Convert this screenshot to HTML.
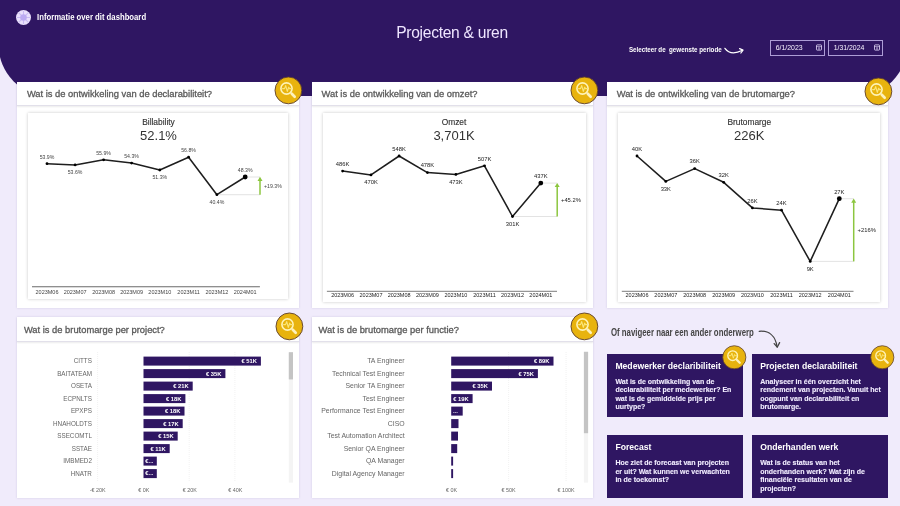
<!DOCTYPE html>
<html lang="nl"><head><meta charset="utf-8"><title>Projecten &amp; uren</title>
<style>
*{box-sizing:border-box;margin:0;padding:0}
html,body{width:900px;height:506px;overflow:hidden;background:#f0ebfb;font-family:"Liberation Sans", sans-serif}
.abs,.ico{position:absolute;overflow:visible}
.card{position:absolute;background:#fff;box-shadow:0 0 2px rgba(80,60,120,.18)}
.ct{position:absolute;left:0;top:0;right:0;font-size:9.35px;color:#5a5a5a;line-height:1;white-space:nowrap;border-bottom:1.2px solid #e2e0ea;box-shadow:0 1px 1.5px rgba(0,0,0,.08);-webkit-text-stroke:.3px #5a5a5a}
.inner{position:absolute;background:#fff;box-shadow:0 0 3px rgba(0,0,0,.22)}
text{font-family:"Liberation Sans", sans-serif}
.kt{font-size:8.4px;fill:#333;text-anchor:middle;stroke:#333;stroke-width:.14px}
.kv{font-size:13px;fill:#333;text-anchor:middle}
.dl{text-anchor:middle}
.xl{font-size:5.5px;text-anchor:middle}
.bl{fill:#666;text-anchor:end}
.bv{font-size:5.8px;fill:#fff;font-weight:bold;text-anchor:end}
.tk{font-size:5.4px;fill:#666;text-anchor:middle}
.tile{position:absolute;background:#2f1662;color:#fff}
.tt{position:absolute;left:8.6px;font-size:8.65px;font-weight:bold;white-space:nowrap;line-height:1;color:#fff}
.tb{position:absolute;left:8.6px;font-size:7px;font-weight:bold;line-height:8.55px;white-space:nowrap;color:#f1ecff;-webkit-text-stroke:.12px #f1ecff}
.hw{font-weight:bold}
</style></head>
<body>
<svg class="abs" style="left:0;top:0" width="900" height="100" viewBox="0 0 900 100">
<rect x="-1.3" y="-60" width="908.4" height="156" rx="50.5" fill="#2f1662"/>
</svg>
<svg class="abs" style="left:15.4px;top:8.8px" width="17" height="17" viewBox="-8.5 -8.5 17 17">
<circle r="7.5" fill="#e9e0fc"/>
<g stroke="#c9bbf3" stroke-width="1.1"><path d="M0,-6.6V6.6M-6.6,0H6.6M-4.7,-4.7L4.7,4.7M-4.7,4.7L4.7,-4.7"/></g>
<circle r="3.3" fill="#bcabf2"/>
</svg>
<svg class="abs" style="left:30px;top:8px" width="130" height="18" viewBox="0 0 130 18"><text x="7.1" y="12.4" class="hw" font-size="9.4" fill="#fff" textLength="109" lengthAdjust="spacingAndGlyphs">Informatie over dit dashboard</text></svg>
<div class="abs" style="left:300px;width:304px;top:24.3px;text-align:center;font-size:15.6px;letter-spacing:-.28px;color:#efe6ff;line-height:18px;white-space:nowrap">Projecten &amp; uren</div>
<svg class="abs" style="left:620px;top:38px" width="140" height="22" viewBox="0 0 140 22"><text x="8.9" y="13.8" class="hw" font-size="8" fill="#fff" textLength="92.8" lengthAdjust="spacingAndGlyphs" xml:space="preserve">Selecteer de  gewenste periode</text>
<path d="M104.9,10.3 C108,14.5 114,16.5 122.5,12.3" fill="none" stroke="#fff" stroke-width="1.25" stroke-linecap="round"/>
<path d="M119.6,10.6 L123,12.1 L120.9,15" fill="none" stroke="#fff" stroke-width="1.25" stroke-linecap="round" stroke-linejoin="round"/></svg>
<div class="abs" style="left:770.2px;top:39.6px;width:54.7px;height:16px;border:1.1px solid #ad9dd6;color:#f7f3ff;font-size:6.9px;line-height:14.6px;padding-left:4.6px;white-space:nowrap">6/1/2023<svg class="abs" style="left:44.6px;top:3.4px" width="6" height="7" viewBox="0 0 6 7"><rect x=".5" y=".9" width="5" height="5.2" rx=".6" fill="none" stroke="#e6dcfb" stroke-width=".8"/><path d="M.5,2.6H5.5M2,3.9h2M2,5h2" stroke="#e6dcfb" stroke-width=".6"/></svg></div>
<div class="abs" style="left:828.1px;top:39.6px;width:54.7px;height:16px;border:1.1px solid #ad9dd6;color:#f7f3ff;font-size:6.9px;line-height:14.6px;padding-left:4.6px;white-space:nowrap">1/31/2024<svg class="abs" style="left:44.6px;top:3.4px" width="6" height="7" viewBox="0 0 6 7"><rect x=".5" y=".9" width="5" height="5.2" rx=".6" fill="none" stroke="#e6dcfb" stroke-width=".8"/><path d="M.5,2.6H5.5M2,3.9h2M2,5h2" stroke="#e6dcfb" stroke-width=".6"/></svg></div>
<div class="card" style="left:17.3px;top:81.8px;width:281.3px;height:226.3px">
<div class="ct" style="height:24.6px;padding:8.4px 0 0 9.6px">Wat is de ontwikkeling van de declarabiliteit?</div>
<div class="inner" style="left:10.7px;top:31.2px;width:260.5px;height:185.8px"></div>
</div>
<div class="card" style="left:311.9px;top:81.8px;width:281.2px;height:226.3px">
<div class="ct" style="height:24.6px;padding:8.4px 0 0 9.6px">Wat is de ontwikkeling van de omzet?</div>
<div class="inner" style="left:11.0px;top:31.2px;width:263.6px;height:189.2px"></div>
</div>
<div class="card" style="left:607.1px;top:81.8px;width:280.6px;height:226.3px">
<div class="ct" style="height:24.6px;padding:8.4px 0 0 9.6px">Wat is de ontwikkeling van de brutomarge?</div>
<div class="inner" style="left:10.6px;top:31.2px;width:262.5px;height:189.2px"></div>
</div>
<div class="card" style="left:17.3px;top:316.8px;width:281.3px;height:181.4px">
<div class="ct" style="height:25.4px;padding:8.8px 0 0 6.6px">Wat is de brutomarge per project?</div>
</div>
<div class="card" style="left:311.9px;top:316.8px;width:281.2px;height:181.4px">
<div class="ct" style="height:25.4px;padding:8.8px 0 0 6.6px">Wat is de brutomarge per functie?</div>
</div>
<svg class="abs" style="left:28px;top:113px" width="260" height="186" viewBox="0 0 260 186">
<text x="130.5" y="11.8" class="kt">Billability</text>
<text x="130.5" y="26.8" class="kv">52.1%</text>
<path d="M188.9,81.7 H232.0 M217.2,64.0 H232.0" stroke="#d0d0d0" stroke-width="0.6" fill="none"/>
<path d="M232.0,81.7 V66.0" stroke="#8cc63f" stroke-width="1.5" fill="none"/>
<path d="M229.5,68.0 L232.0,63.8 L234.5,68.0 Z" fill="#8cc63f"/>
<polyline points="19.0,50.7 47.1,51.9 75.6,46.8 103.6,50.1 131.8,57.0 160.6,44.2 188.9,81.7 217.2,64.0" fill="none" stroke="#1e1e1e" stroke-width="1.55" stroke-linejoin="round"/>
<circle cx="19.0" cy="50.7" r="1.4" fill="#000"/>
<circle cx="47.1" cy="51.9" r="1.4" fill="#000"/>
<circle cx="75.6" cy="46.8" r="1.4" fill="#000"/>
<circle cx="103.6" cy="50.1" r="1.4" fill="#000"/>
<circle cx="131.8" cy="57.0" r="1.4" fill="#000"/>
<circle cx="160.6" cy="44.2" r="1.4" fill="#000"/>
<circle cx="188.9" cy="81.7" r="1.4" fill="#000"/>
<circle cx="217.2" cy="64.0" r="2.4" fill="#000"/>
<text x="19.0" y="45.5" class="dl" font-size="5.2" fill="#444">53.9%</text>
<text x="47.1" y="61.1" class="dl" font-size="5.2" fill="#444">53.6%</text>
<text x="75.6" y="41.6" class="dl" font-size="5.2" fill="#444">55.9%</text>
<text x="103.6" y="44.9" class="dl" font-size="5.2" fill="#444">54.3%</text>
<text x="131.8" y="66.2" class="dl" font-size="5.2" fill="#444">51.3%</text>
<text x="160.6" y="39.0" class="dl" font-size="5.2" fill="#444">56.8%</text>
<text x="188.9" y="90.9" class="dl" font-size="5.2" fill="#444">40.4%</text>
<text x="217.2" y="58.8" class="dl" font-size="5.2" fill="#444">48.3%</text>
<text x="236.0" y="74.8" class="dl" font-size="5.2" style="text-anchor:start" fill="#444">+19.3%</text>
<path d="M4.0,173.8 H231.9" stroke="#6a6a6a" stroke-width="1.1"/>
<text x="19.0" y="180.7" class="xl" fill="#444">2023M06</text>
<text x="47.1" y="180.7" class="xl" fill="#444">2023M07</text>
<text x="75.6" y="180.7" class="xl" fill="#444">2023M08</text>
<text x="103.6" y="180.7" class="xl" fill="#444">2023M09</text>
<text x="131.8" y="180.7" class="xl" fill="#444">2023M10</text>
<text x="160.6" y="180.7" class="xl" fill="#444">2023M11</text>
<text x="188.9" y="180.7" class="xl" fill="#444">2023M12</text>
<text x="217.2" y="180.7" class="xl" fill="#444">2024M01</text>
</svg>
<svg class="abs" style="left:323px;top:113px" width="263" height="189" viewBox="0 0 263 189">
<text x="131.0" y="11.8" class="kt">Omzet</text>
<text x="131.0" y="26.8" class="kv">3,701K</text>
<path d="M189.5,103.5 H234.2 M217.8,70.1 H234.2" stroke="#d0d0d0" stroke-width="0.6" fill="none"/>
<path d="M234.2,103.5 V72.1" stroke="#8cc63f" stroke-width="1.5" fill="none"/>
<path d="M231.7,74.1 L234.2,69.9 L236.7,74.1 Z" fill="#8cc63f"/>
<polyline points="19.6,58.1 48.0,61.9 76.1,43.0 104.4,59.6 132.9,61.4 161.5,52.8 189.5,103.5 217.8,70.1" fill="none" stroke="#1e1e1e" stroke-width="1.55" stroke-linejoin="round"/>
<circle cx="19.6" cy="58.1" r="1.4" fill="#000"/>
<circle cx="48.0" cy="61.9" r="1.4" fill="#000"/>
<circle cx="76.1" cy="43.0" r="1.4" fill="#000"/>
<circle cx="104.4" cy="59.6" r="1.4" fill="#000"/>
<circle cx="132.9" cy="61.4" r="1.4" fill="#000"/>
<circle cx="161.5" cy="52.8" r="1.4" fill="#000"/>
<circle cx="189.5" cy="103.5" r="1.4" fill="#000"/>
<circle cx="217.8" cy="70.1" r="2.4" fill="#000"/>
<text x="19.6" y="52.9" class="dl" font-size="5.8" fill="#222">486K</text>
<text x="48.0" y="71.1" class="dl" font-size="5.8" fill="#222">470K</text>
<text x="76.1" y="37.8" class="dl" font-size="5.8" fill="#222">548K</text>
<text x="104.4" y="54.4" class="dl" font-size="5.8" fill="#222">478K</text>
<text x="132.9" y="70.6" class="dl" font-size="5.8" fill="#222">473K</text>
<text x="161.5" y="47.6" class="dl" font-size="5.8" fill="#222">507K</text>
<text x="189.5" y="112.7" class="dl" font-size="5.8" fill="#222">301K</text>
<text x="217.8" y="64.9" class="dl" font-size="5.8" fill="#222">437K</text>
<text x="238.0" y="88.7" class="dl" font-size="5.8" style="text-anchor:start" fill="#222">+45.2%</text>
<path d="M3.9,178.3 H234.0" stroke="#222" stroke-width="0.6"/>
<text x="19.6" y="184.2" class="xl" fill="#222">2023M06</text>
<text x="48.0" y="184.2" class="xl" fill="#222">2023M07</text>
<text x="76.1" y="184.2" class="xl" fill="#222">2023M08</text>
<text x="104.4" y="184.2" class="xl" fill="#222">2023M09</text>
<text x="132.9" y="184.2" class="xl" fill="#222">2023M10</text>
<text x="161.5" y="184.2" class="xl" fill="#222">2023M11</text>
<text x="189.5" y="184.2" class="xl" fill="#222">2023M12</text>
<text x="217.8" y="184.2" class="xl" fill="#222">2024M01</text>
</svg>
<svg class="abs" style="left:617.7px;top:113px" width="262" height="189" viewBox="0 0 262 189">
<text x="131.3" y="11.8" class="kt">Brutomarge</text>
<text x="131.3" y="26.8" class="kv">226K</text>
<path d="M192.2,148.4 H235.7 M221.3,85.7 H235.7" stroke="#d0d0d0" stroke-width="0.6" fill="none"/>
<path d="M235.7,148.4 V87.7" stroke="#8cc63f" stroke-width="1.5" fill="none"/>
<path d="M233.2,89.7 L235.7,85.5 L238.2,89.7 Z" fill="#8cc63f"/>
<polyline points="19.0,43.0 47.8,68.4 76.7,55.6 105.7,69.3 134.4,94.9 163.5,97.2 192.2,148.4 221.3,85.7" fill="none" stroke="#1e1e1e" stroke-width="1.55" stroke-linejoin="round"/>
<circle cx="19.0" cy="43.0" r="1.4" fill="#000"/>
<circle cx="47.8" cy="68.4" r="1.4" fill="#000"/>
<circle cx="76.7" cy="55.6" r="1.4" fill="#000"/>
<circle cx="105.7" cy="69.3" r="1.4" fill="#000"/>
<circle cx="134.4" cy="94.9" r="1.4" fill="#000"/>
<circle cx="163.5" cy="97.2" r="1.4" fill="#000"/>
<circle cx="192.2" cy="148.4" r="1.4" fill="#000"/>
<circle cx="221.3" cy="85.7" r="2.4" fill="#000"/>
<text x="19.0" y="37.8" class="dl" font-size="5.8" fill="#222">40K</text>
<text x="47.8" y="77.6" class="dl" font-size="5.8" fill="#222">33K</text>
<text x="76.7" y="50.4" class="dl" font-size="5.8" fill="#222">36K</text>
<text x="105.7" y="64.1" class="dl" font-size="5.8" fill="#222">32K</text>
<text x="134.4" y="89.7" class="dl" font-size="5.8" fill="#222">26K</text>
<text x="163.5" y="92.0" class="dl" font-size="5.8" fill="#222">24K</text>
<text x="192.2" y="157.6" class="dl" font-size="5.8" fill="#222">9K</text>
<text x="221.3" y="80.5" class="dl" font-size="5.8" fill="#222">27K</text>
<text x="239.6" y="118.9" class="dl" font-size="5.8" style="text-anchor:start" fill="#222">+216%</text>
<path d="M3.8,178.3 H235.5" stroke="#222" stroke-width="0.6"/>
<text x="19.0" y="184.2" class="xl" fill="#222">2023M06</text>
<text x="47.8" y="184.2" class="xl" fill="#222">2023M07</text>
<text x="76.7" y="184.2" class="xl" fill="#222">2023M08</text>
<text x="105.7" y="184.2" class="xl" fill="#222">2023M09</text>
<text x="134.4" y="184.2" class="xl" fill="#222">2023M10</text>
<text x="163.5" y="184.2" class="xl" fill="#222">2023M11</text>
<text x="192.2" y="184.2" class="xl" fill="#222">2023M12</text>
<text x="221.3" y="184.2" class="xl" fill="#222">2024M01</text>
</svg>
<svg class="abs" style="left:17.3px;top:341px" width="281" height="157" viewBox="0 0 281 157">
<path d="M80.6,11.0 V141.0" stroke="#e3e3e3" stroke-width="0.6" stroke-dasharray="0.8 1.2"/>
<path d="M172.2,11.0 V141.0" stroke="#e3e3e3" stroke-width="0.6" stroke-dasharray="0.8 1.2"/>
<path d="M217.9,11.0 V141.0" stroke="#e3e3e3" stroke-width="0.6" stroke-dasharray="0.8 1.2"/>
<text x="74.9" y="22.3" class="bl" font-size="6.3">CITTS</text>
<rect x="126.5" y="15.6" width="117.4" height="9" fill="#2f1662"/>
<text x="239.9" y="22.0" class="bv">€ 51K</text>
<text x="74.9" y="34.8" class="bl" font-size="6.3">BAITATEAM</text>
<rect x="126.5" y="28.1" width="81.9" height="9" fill="#2f1662"/>
<text x="204.4" y="34.5" class="bv">€ 35K</text>
<text x="74.9" y="47.3" class="bl" font-size="6.3">OSETA</text>
<rect x="126.5" y="40.6" width="49.2" height="9" fill="#2f1662"/>
<text x="171.7" y="47.0" class="bv">€ 21K</text>
<text x="74.9" y="59.8" class="bl" font-size="6.3">ECPNLTS</text>
<rect x="126.5" y="53.1" width="41.9" height="9" fill="#2f1662"/>
<text x="164.4" y="59.5" class="bv">€ 18K</text>
<text x="74.9" y="72.3" class="bl" font-size="6.3">EPXPS</text>
<rect x="126.5" y="65.6" width="41.0" height="9" fill="#2f1662"/>
<text x="163.5" y="72.0" class="bv">€ 18K</text>
<text x="74.9" y="84.8" class="bl" font-size="6.3">HNAHOLDTS</text>
<rect x="126.5" y="78.1" width="39.2" height="9" fill="#2f1662"/>
<text x="161.7" y="84.5" class="bv">€ 17K</text>
<text x="74.9" y="97.3" class="bl" font-size="6.3">SSECOMTL</text>
<rect x="126.5" y="90.6" width="34.2" height="9" fill="#2f1662"/>
<text x="156.7" y="97.0" class="bv">€ 15K</text>
<text x="74.9" y="109.8" class="bl" font-size="6.3">SSTAE</text>
<rect x="126.5" y="103.1" width="26.2" height="9" fill="#2f1662"/>
<text x="148.7" y="109.5" class="bv">€ 11K</text>
<text x="74.9" y="122.3" class="bl" font-size="6.3">IMBMED2</text>
<rect x="126.5" y="115.6" width="13.3" height="9" fill="#2f1662"/>
<text x="128.3" y="121.9" class="bv" style="text-anchor:start">€...</text>
<text x="74.9" y="134.8" class="bl" font-size="6.3">HNATR</text>
<rect x="126.5" y="128.1" width="13.3" height="9" fill="#2f1662"/>
<text x="128.3" y="134.4" class="bv" style="text-anchor:start">€...</text>
<text x="80.6" y="150.8" class="tk">-€ 20K</text>
<text x="126.9" y="150.8" class="tk">€ 0K</text>
<text x="172.7" y="150.8" class="tk">€ 20K</text>
<text x="218.3" y="150.8" class="tk">€ 40K</text>
<rect x="271.8" y="11.2" width="4.2" height="130.4" fill="#f4f4f4"/>
<rect x="271.8" y="11.2" width="4.2" height="27.2" fill="#c4c4c4"/>
</svg>
<svg class="abs" style="left:311.9px;top:341px" width="281" height="157" viewBox="0 0 281 157">
<path d="M196.6,11.0 V141.0" stroke="#e3e3e3" stroke-width="0.6" stroke-dasharray="0.8 1.2"/>
<path d="M254.1,11.0 V141.0" stroke="#e3e3e3" stroke-width="0.6" stroke-dasharray="0.8 1.2"/>
<text x="92.6" y="22.3" class="bl" font-size="6.9">TA Engineer</text>
<rect x="139.2" y="15.6" width="102.3" height="9" fill="#2f1662"/>
<text x="237.5" y="22.0" class="bv">€ 89K</text>
<text x="92.6" y="34.8" class="bl" font-size="6.9">Technical Test Engineer</text>
<rect x="139.2" y="28.1" width="86.7" height="9" fill="#2f1662"/>
<text x="221.9" y="34.5" class="bv">€ 75K</text>
<text x="92.6" y="47.3" class="bl" font-size="6.9">Senior TA Engineer</text>
<rect x="139.2" y="40.6" width="40.8" height="9" fill="#2f1662"/>
<text x="176.0" y="47.0" class="bv">€ 35K</text>
<text x="92.6" y="59.8" class="bl" font-size="6.9">Test Engineer</text>
<rect x="139.2" y="53.1" width="21.4" height="9" fill="#2f1662"/>
<text x="156.6" y="59.5" class="bv">€ 19K</text>
<text x="92.6" y="72.3" class="bl" font-size="6.9">Performance Test Engineer</text>
<rect x="139.2" y="65.6" width="11.5" height="9" fill="#2f1662"/>
<text x="141.0" y="71.9" class="bv" style="text-anchor:start">...</text>
<text x="92.6" y="84.8" class="bl" font-size="6.9">CISO</text>
<rect x="139.2" y="78.1" width="7.3" height="9" fill="#2f1662"/>
<text x="92.6" y="97.3" class="bl" font-size="6.9">Test Automation Architect</text>
<rect x="139.2" y="90.6" width="6.8" height="9" fill="#2f1662"/>
<text x="92.6" y="109.8" class="bl" font-size="6.9">Senior QA Engineer</text>
<rect x="139.2" y="103.1" width="6.0" height="9" fill="#2f1662"/>
<text x="92.6" y="122.3" class="bl" font-size="6.9">QA Manager</text>
<rect x="139.2" y="115.6" width="1.9" height="9" fill="#2f1662"/>
<text x="92.6" y="134.8" class="bl" font-size="6.9">Digital Agency Manager</text>
<rect x="139.2" y="128.1" width="1.9" height="9" fill="#2f1662"/>
<text x="139.6" y="150.8" class="tk">€ 0K</text>
<text x="196.6" y="150.8" class="tk">€ 50K</text>
<text x="254.1" y="150.8" class="tk">€ 100K</text>
<rect x="271.9" y="10.8" width="4.2" height="130.8" fill="#f4f4f4"/>
<rect x="271.9" y="10.8" width="4.2" height="81.4" fill="#c4c4c4"/>
</svg>
<svg class="ico" style="left:273.4px;top:75.4px" width="30.8" height="30.8" viewBox="-15.4 -15.4 30.8 30.8">
<circle r="13.4" fill="#e8b30e" stroke="#5b3d2e" stroke-width="0.9"/>
<circle cx="-1.9" cy="-1.9" r="5.6" fill="none" stroke="#fef3b8" stroke-width="1.6"/>
<path d="M-5.8,-1.8 h1.9 l1.2,-3 l1.6,5.8 l1.4,-4.2 l0.8,1.4 h1.9" fill="none" stroke="#fbe679" stroke-width="1.15" stroke-linejoin="round" stroke-linecap="round"/>
<path d="M3.4,3.4 L6.3,6.3" stroke="#fdf1bd" stroke-width="2.7" stroke-linecap="round"/><path d="M2,2 L4,4" stroke="#fdf1bd" stroke-width="1.3"/>
</svg>
<svg class="ico" style="left:568.7px;top:75.2px" width="30.8" height="30.8" viewBox="-15.4 -15.4 30.8 30.8">
<circle r="13.4" fill="#e8b30e" stroke="#5b3d2e" stroke-width="0.9"/>
<circle cx="-1.9" cy="-1.9" r="5.6" fill="none" stroke="#fef3b8" stroke-width="1.6"/>
<path d="M-5.8,-1.8 h1.9 l1.2,-3 l1.6,5.8 l1.4,-4.2 l0.8,1.4 h1.9" fill="none" stroke="#fbe679" stroke-width="1.15" stroke-linejoin="round" stroke-linecap="round"/>
<path d="M3.4,3.4 L6.3,6.3" stroke="#fdf1bd" stroke-width="2.7" stroke-linecap="round"/><path d="M2,2 L4,4" stroke="#fdf1bd" stroke-width="1.3"/>
</svg>
<svg class="ico" style="left:863.2px;top:75.5px" width="30.8" height="30.8" viewBox="-15.4 -15.4 30.8 30.8">
<circle r="13.4" fill="#e8b30e" stroke="#5b3d2e" stroke-width="0.9"/>
<circle cx="-1.9" cy="-1.9" r="5.6" fill="none" stroke="#fef3b8" stroke-width="1.6"/>
<path d="M-5.8,-1.8 h1.9 l1.2,-3 l1.6,5.8 l1.4,-4.2 l0.8,1.4 h1.9" fill="none" stroke="#fbe679" stroke-width="1.15" stroke-linejoin="round" stroke-linecap="round"/>
<path d="M3.4,3.4 L6.3,6.3" stroke="#fdf1bd" stroke-width="2.7" stroke-linecap="round"/><path d="M2,2 L4,4" stroke="#fdf1bd" stroke-width="1.3"/>
</svg>
<svg class="ico" style="left:273.7px;top:310.6px" width="30.8" height="30.8" viewBox="-15.4 -15.4 30.8 30.8">
<circle r="13.4" fill="#e8b30e" stroke="#5b3d2e" stroke-width="0.9"/>
<circle cx="-1.9" cy="-1.9" r="5.6" fill="none" stroke="#fef3b8" stroke-width="1.6"/>
<path d="M-5.8,-1.8 h1.9 l1.2,-3 l1.6,5.8 l1.4,-4.2 l0.8,1.4 h1.9" fill="none" stroke="#fbe679" stroke-width="1.15" stroke-linejoin="round" stroke-linecap="round"/>
<path d="M3.4,3.4 L6.3,6.3" stroke="#fdf1bd" stroke-width="2.7" stroke-linecap="round"/><path d="M2,2 L4,4" stroke="#fdf1bd" stroke-width="1.3"/>
</svg>
<svg class="ico" style="left:568.8px;top:310.6px" width="30.8" height="30.8" viewBox="-15.4 -15.4 30.8 30.8">
<circle r="13.4" fill="#e8b30e" stroke="#5b3d2e" stroke-width="0.9"/>
<circle cx="-1.9" cy="-1.9" r="5.6" fill="none" stroke="#fef3b8" stroke-width="1.6"/>
<path d="M-5.8,-1.8 h1.9 l1.2,-3 l1.6,5.8 l1.4,-4.2 l0.8,1.4 h1.9" fill="none" stroke="#fbe679" stroke-width="1.15" stroke-linejoin="round" stroke-linecap="round"/>
<path d="M3.4,3.4 L6.3,6.3" stroke="#fdf1bd" stroke-width="2.7" stroke-linecap="round"/><path d="M2,2 L4,4" stroke="#fdf1bd" stroke-width="1.3"/>
</svg>
<svg class="abs" style="left:605px;top:322px" width="180" height="30" viewBox="0 0 180 30"><text x="6" y="14.3" class="hw" font-size="10" fill="#454545" textLength="142.8" lengthAdjust="spacingAndGlyphs">Of navigeer naar een ander onderwerp</text>
<path d="M154.2,9.3 C164,8.5 170.5,14 172,24.6" fill="none" stroke="#444" stroke-width="1.3" stroke-linecap="round"/>
<path d="M169.2,21.6 L172.2,25.2 L174.6,20.6" fill="none" stroke="#444" stroke-width="1.3" stroke-linecap="round" stroke-linejoin="round"/></svg>
<div class="tile" style="left:606.8px;top:353.6px;width:136px;height:63.2px"><div class="tt" style="top:8px">Medewerker declaribiliteit</div><div class="tb" style="top:24.2px">Wat is de ontwikkeling van de<br>declarabiliteit per medewerker? En<br>wat is de gemiddelde prijs per<br>uurtype?</div></div>
<div class="tile" style="left:751.6px;top:353.6px;width:136.3px;height:63.2px"><div class="tt" style="top:8px">Projecten declarabiliteit</div><div class="tb" style="top:24.2px">Analyseer in één overzicht het<br>rendement van projecten. Vanuit het<br>oogpunt van declarabiliteit en<br>brutomarge.</div></div>
<div class="tile" style="left:606.8px;top:435px;width:136px;height:63.1px"><div class="tt" style="top:7.6px">Forecast</div><div class="tb" style="top:24.2px">Hoe ziet de forecast van projecten<br>er uit? Wat kunnen we verwachten<br>in de toekomst?</div></div>
<div class="tile" style="left:751.6px;top:435px;width:136.3px;height:63.1px"><div class="tt" style="top:7.6px">Onderhanden werk</div><div class="tb" style="top:24.2px">Wat is de status van het<br>onderhanden werk? Wat zijn de<br>financiële resultaten van de<br>projecten?</div></div>
<svg class="ico" style="left:720.6px;top:343.6px" width="26.6" height="26.6" viewBox="-15.4 -15.4 30.8 30.8">
<circle r="13.4" fill="#e8b30e" stroke="#5b3d2e" stroke-width="0.9"/>
<circle cx="-1.9" cy="-1.9" r="5.6" fill="none" stroke="#fef3b8" stroke-width="1.6"/>
<path d="M-5.8,-1.8 h1.9 l1.2,-3 l1.6,5.8 l1.4,-4.2 l0.8,1.4 h1.9" fill="none" stroke="#fbe679" stroke-width="1.15" stroke-linejoin="round" stroke-linecap="round"/>
<path d="M3.4,3.4 L6.3,6.3" stroke="#fdf1bd" stroke-width="2.7" stroke-linecap="round"/><path d="M2,2 L4,4" stroke="#fdf1bd" stroke-width="1.3"/>
</svg>
<svg class="ico" style="left:869.0px;top:343.7px" width="26.6" height="26.6" viewBox="-15.4 -15.4 30.8 30.8">
<circle r="13.4" fill="#e8b30e" stroke="#5b3d2e" stroke-width="0.9"/>
<circle cx="-1.9" cy="-1.9" r="5.6" fill="none" stroke="#fef3b8" stroke-width="1.6"/>
<path d="M-5.8,-1.8 h1.9 l1.2,-3 l1.6,5.8 l1.4,-4.2 l0.8,1.4 h1.9" fill="none" stroke="#fbe679" stroke-width="1.15" stroke-linejoin="round" stroke-linecap="round"/>
<path d="M3.4,3.4 L6.3,6.3" stroke="#fdf1bd" stroke-width="2.7" stroke-linecap="round"/><path d="M2,2 L4,4" stroke="#fdf1bd" stroke-width="1.3"/>
</svg>
</body></html>
